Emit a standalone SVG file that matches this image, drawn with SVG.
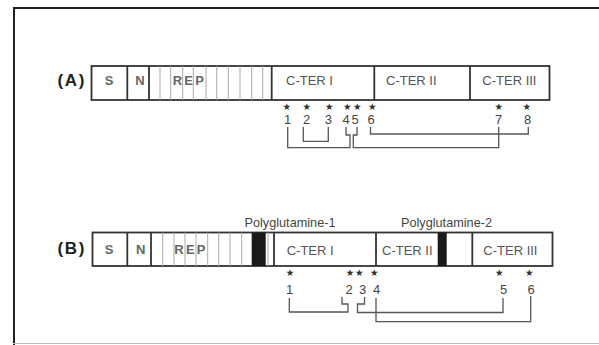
<svg xmlns="http://www.w3.org/2000/svg" width="599" height="345" viewBox="0 0 599 345">
<style>
.box{fill:#fff;stroke:#333;stroke-width:1.8}
.div{stroke:#333;stroke-width:1.8}
.rep{stroke:#aaa;stroke-width:1}
.lbl{font-family:"Liberation Sans",Arial,sans-serif;font-size:13px;fill:#555}
.bl{font-family:"Liberation Sans",Arial,sans-serif;font-size:13px;font-weight:bold;fill:#666}
.tag{font-family:"Liberation Sans",Arial,sans-serif;font-size:17px;font-weight:bold;fill:#222}
.num{font-family:"Liberation Sans",Arial,sans-serif;font-size:13px;fill:#444;text-anchor:middle}
.star{font-family:"DejaVu Sans",sans-serif;font-size:9.5px;fill:#333;text-anchor:middle}
.poly{font-family:"Liberation Sans",Arial,sans-serif;font-size:12.7px;fill:#444}
.con{fill:none;stroke:#555;stroke-width:1.3}
</style>
<rect width="599" height="345" fill="#fff"/>
<g id="frame">
<path d="M14 345 V8 H599" fill="none" stroke="#222" stroke-width="2"/>
<line x1="13" y1="343.5" x2="599" y2="343.5" stroke="#bbb" stroke-width="1.2"/>
</g>
<g id="protein-A">
<text class="tag" x="57.5" y="85.5" textLength="27">(A)</text>
<rect class="box" x="91.5" y="66" width="458" height="34"/>
<g class="rep">
<line x1="160" y1="66" x2="160" y2="100"/><line x1="170.7" y1="66" x2="170.7" y2="100"/><line x1="182.7" y1="66" x2="182.7" y2="100"/><line x1="193.3" y1="66" x2="193.3" y2="100"/><line x1="206" y1="66" x2="206" y2="100"/><line x1="216.7" y1="66" x2="216.7" y2="100"/><line x1="228.3" y1="66" x2="228.3" y2="100"/><line x1="240" y1="66" x2="240" y2="100"/><line x1="251.7" y1="66" x2="251.7" y2="100"/><line x1="262.7" y1="66" x2="262.7" y2="100"/>
</g>
<g class="div">
<line x1="127.3" y1="66" x2="127.3" y2="100"/><line x1="149" y1="66" x2="149" y2="100"/><line x1="271.7" y1="66" x2="271.7" y2="100"/><line x1="374.3" y1="66" x2="374.3" y2="100"/><line x1="470" y1="66" x2="470" y2="100"/>
</g>
<text class="bl" x="109" y="85" text-anchor="middle">S</text>
<text class="bl" x="140" y="85" text-anchor="middle">N</text>
<text class="bl" x="172.7" y="85" letter-spacing="2.2">REP</text>
<text class="lbl" x="286" y="85">C-TER I</text>
<text class="lbl" x="386" y="85">C-TER II</text>
<text class="lbl" x="482.3" y="85">C-TER III</text>
</g>
<g id="sites-A">
<text class="star" x="286.7" y="109.5">★</text><text class="star" x="306.7" y="109.5">★</text><text class="star" x="329.3" y="109.5">★</text><text class="star" x="347.3" y="109.5">★</text><text class="star" x="357.3" y="109.5">★</text><text class="star" x="372.3" y="109.5">★</text><text class="star" x="498.7" y="109.5">★</text><text class="star" x="526.7" y="109.5">★</text>
<text class="num" x="287.5" y="124">1</text><text class="num" x="306.7" y="124">2</text><text class="num" x="328.3" y="124">3</text><text class="num" x="346" y="124">4</text><text class="num" x="355" y="124">5</text><text class="num" x="371" y="124">6</text><text class="num" x="498.7" y="124">7</text><text class="num" x="527.7" y="124">8</text>
</g>
<g id="protein-B">
<text class="tag" x="57.5" y="253.5" textLength="27">(B)</text>
<text class="poly" x="244.5" y="227">Polyglutamine-1</text>
<text class="poly" x="401" y="227">Polyglutamine-2</text>
<rect class="box" x="92.5" y="232.5" width="460" height="33.5"/>
<g class="rep">
<line x1="162.7" y1="232.5" x2="162.7" y2="266"/><line x1="174" y1="232.5" x2="174" y2="266"/><line x1="185" y1="232.5" x2="185" y2="266"/><line x1="196" y1="232.5" x2="196" y2="266"/><line x1="207.7" y1="232.5" x2="207.7" y2="266"/><line x1="218.7" y1="232.5" x2="218.7" y2="266"/><line x1="230" y1="232.5" x2="230" y2="266"/><line x1="241.7" y1="232.5" x2="241.7" y2="266"/><line x1="268" y1="232.5" x2="268" y2="266"/>
</g>
<rect x="251.7" y="232.5" width="14" height="33.5" fill="#1a1a1a"/>
<rect x="437.7" y="232.5" width="9" height="33.5" fill="#1a1a1a"/>
<g class="div">
<line x1="127.3" y1="232.5" x2="127.3" y2="266"/><line x1="151" y1="232.5" x2="151" y2="266"/><line x1="274" y1="232.5" x2="274" y2="266"/><line x1="376" y1="232.5" x2="376" y2="266"/><line x1="472.3" y1="232.5" x2="472.3" y2="266"/>
</g>
<text class="bl" x="109.2" y="253.5" text-anchor="middle">S</text>
<text class="bl" x="140.8" y="253.5" text-anchor="middle">N</text>
<text class="bl" x="174.3" y="253.5" letter-spacing="2.2">REP</text>
<text class="lbl" x="286.7" y="255">C-TER I</text>
<text class="lbl" x="382" y="255">C-TER II</text>
<text class="lbl" x="483.3" y="255">C-TER III</text>
</g>
<g id="sites-B">
<text class="star" x="290" y="276">★</text><text class="star" x="350" y="276">★</text><text class="star" x="359.3" y="276">★</text><text class="star" x="374.3" y="276">★</text><text class="star" x="499.3" y="276">★</text><text class="star" x="529.3" y="276">★</text>
<text class="num" x="289.5" y="294">1</text><text class="num" x="349" y="294">2</text><text class="num" x="362.5" y="294">3</text><text class="num" x="376.5" y="294">4</text><text class="num" x="503.5" y="294">5</text><text class="num" x="531" y="294">6</text>
</g>
<g id="connectors">
<polyline class="con" points="287.7,127 287.7,147.7 350,147.7 350,135 346,135 346,127"/>
<polyline class="con" points="303.3,127 303.3,141.3 328.3,141.3 328.3,127"/>
<polyline class="con" points="357,127 357,135 353.3,135 353.3,147.7 498.7,147.7 498.7,127"/>
<polyline class="con" points="370.5,127 370.5,134 528.3,134 528.3,127"/>
<polyline class="con" points="289.3,298 289.3,312 348,312 348,304 342,304 342,297"/>
<polyline class="con" points="364.5,297 364.5,304 357.5,304 357.5,312.5 503,312.5 503,298"/>
<polyline class="con" points="376,298 376,321.7 530.7,321.7 530.7,296"/>
</g>
</svg>
